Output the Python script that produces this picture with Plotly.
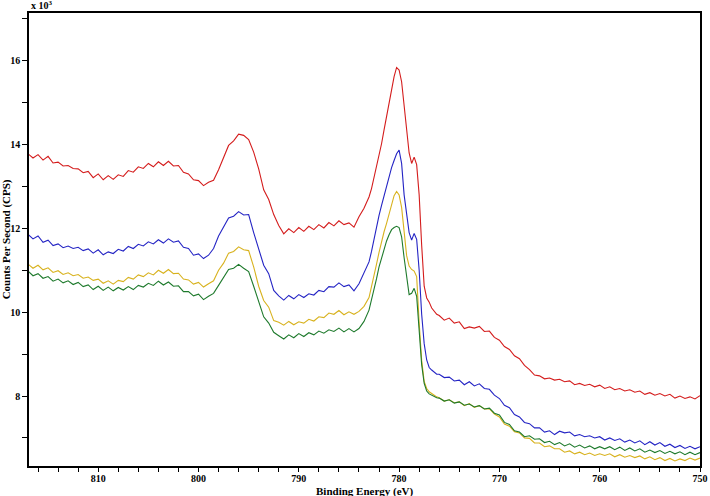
import numpy as np
import plotly.graph_objects as go

# binding energy grid (eV): 0.5 eV steps, 0.25 eV through the main peak
energy = np.concatenate([
    np.arange(817.0, 782.9, -0.5),
    np.arange(782.75, 776.2, -0.25),
    np.arange(776.0, 749.9, -0.5),
])

# counts per second (x 10^3)
red = [
    13.78, 13.68, 13.76, 13.63, 13.72, 13.56, 13.58, 13.49, 13.50, 13.43,
    13.42, 13.33, 13.36, 13.21, 13.30, 13.16, 13.26, 13.17, 13.28, 13.24,
    13.38, 13.34, 13.47, 13.43, 13.55, 13.47, 13.59, 13.50, 13.60, 13.49,
    13.50, 13.34, 13.30, 13.16, 13.14, 13.02, 13.10, 13.15, 13.40, 13.67,
    13.98, 14.09, 14.25, 14.22, 14.12, 13.82, 13.42, 12.92, 12.69, 12.33,
    12.07, 11.87, 11.99, 11.90, 12.02, 11.93, 12.05, 11.97, 12.09, 12.01,
    12.14, 12.06, 12.18, 12.09, 12.13, 12.03, 12.28, 12.48, 12.75,
    12.95, 13.22, 13.45, 13.74, 14.02, 14.35, 14.68, 14.96, 15.25, 15.62,
    15.84, 15.78, 15.50, 14.93, 14.25, 13.80, 13.55, 13.70, 13.52, 12.80,
    11.60, 10.62, 10.34, 10.24, 10.10, 10.02, 9.95,
    9.92, 9.81, 9.86, 9.74, 9.77, 9.61, 9.65, 9.62, 9.66, 9.54,
    9.55, 9.40, 9.33, 9.18, 9.11, 8.96, 8.89, 8.73, 8.63, 8.50,
    8.48, 8.41, 8.43, 8.38, 8.40, 8.34, 8.36, 8.27, 8.30, 8.25,
    8.28, 8.22, 8.26, 8.18, 8.22, 8.15, 8.18, 8.12, 8.15, 8.09,
    8.12, 8.04, 8.08, 8.02, 8.06, 8.00, 8.04, 7.95, 8.00, 7.94,
    7.98, 7.93, 8.01,
]
blue = [
    11.86, 11.75, 11.82, 11.67, 11.72, 11.59, 11.63, 11.54, 11.58, 11.52,
    11.55, 11.47, 11.51, 11.41, 11.49, 11.37, 11.44, 11.40, 11.50, 11.46,
    11.57, 11.52, 11.62, 11.58, 11.68, 11.63, 11.73, 11.65, 11.75, 11.67,
    11.70, 11.55, 11.52, 11.36, 11.39, 11.28, 11.36, 11.52, 11.82, 12.04,
    12.25, 12.29, 12.40, 12.32, 12.33, 11.90, 11.52, 11.12, 10.92, 10.52,
    10.39, 10.29, 10.40, 10.32, 10.42, 10.35, 10.44, 10.41, 10.52, 10.49,
    10.61, 10.60, 10.70, 10.61, 10.65, 10.51, 10.68, 10.94, 11.20,
    11.45, 11.75, 12.05, 12.31, 12.55, 12.78, 12.98, 13.20, 13.45, 13.62,
    13.78, 13.87, 13.55, 12.80, 12.30, 11.90, 11.72, 11.88, 11.74, 11.00,
    9.95, 9.25, 8.86, 8.68, 8.62, 8.56, 8.52,
    8.52, 8.44, 8.45, 8.36, 8.38, 8.27, 8.34, 8.24, 8.29, 8.18,
    8.16, 8.02, 7.94, 7.78, 7.72, 7.56, 7.50, 7.37, 7.34, 7.24,
    7.24, 7.14, 7.17, 7.08, 7.16, 7.12, 7.14, 7.05, 7.08, 7.03,
    7.05, 7.00, 7.03, 6.95, 7.00, 6.94, 6.98, 6.90, 6.95, 6.88,
    6.93, 6.84, 6.91, 6.83, 6.89, 6.80, 6.85, 6.77, 6.82, 6.75,
    6.80, 6.74, 6.79,
]
yellow = [
    11.15, 11.05, 11.12, 11.01, 11.06, 10.95, 10.99, 10.90, 10.94, 10.87,
    10.90, 10.81, 10.84, 10.76, 10.79, 10.69, 10.75, 10.67, 10.76, 10.73,
    10.83, 10.79, 10.89, 10.85, 10.94, 10.89, 11.00, 10.93, 11.02, 10.92,
    10.93, 10.79, 10.77, 10.67, 10.71, 10.60, 10.68, 10.75, 11.00, 11.17,
    11.41, 11.45, 11.56, 11.49, 11.47, 11.08, 10.62, 10.28, 10.12, 9.80,
    9.76, 9.69, 9.78, 9.70, 9.77, 9.74, 9.83, 9.79, 9.89, 9.87,
    9.98, 9.95, 10.04, 9.94, 10.01, 9.95, 10.02, 10.14, 10.35,
    10.60, 10.88, 11.15, 11.43, 11.70, 11.92, 12.12, 12.35, 12.58, 12.78,
    12.88, 12.80, 12.50, 11.85, 11.35, 11.10, 11.02, 10.98, 10.85, 9.75,
    8.85, 8.35, 8.18, 8.10, 8.05, 8.02, 7.98,
    7.96, 7.88, 7.91, 7.84, 7.86, 7.77, 7.82, 7.73, 7.77, 7.69,
    7.70, 7.57, 7.50, 7.33, 7.28, 7.15, 7.12, 7.00, 6.99, 6.88,
    6.88, 6.79, 6.81, 6.74, 6.74, 6.66, 6.69, 6.62, 6.66, 6.60,
    6.64, 6.58, 6.62, 6.58, 6.62, 6.55, 6.60, 6.54, 6.58, 6.53,
    6.57, 6.50, 6.55, 6.48, 6.53, 6.46, 6.51, 6.45, 6.50, 6.46,
    6.52, 6.47, 6.52,
]
green = [
    10.98, 10.87, 10.92, 10.81, 10.85, 10.74, 10.79, 10.70, 10.75, 10.66,
    10.71, 10.61, 10.65, 10.54, 10.62, 10.52, 10.60, 10.51, 10.59, 10.53,
    10.61, 10.54, 10.64, 10.60, 10.69, 10.64, 10.74, 10.65, 10.72, 10.62,
    10.63, 10.49, 10.49, 10.39, 10.43, 10.30, 10.38, 10.45, 10.64, 10.82,
    11.02, 11.05, 11.14, 11.05, 10.97, 10.62, 10.24, 9.89, 9.74, 9.52,
    9.44, 9.36, 9.46, 9.39, 9.49, 9.42, 9.51, 9.46, 9.55, 9.50,
    9.58, 9.54, 9.62, 9.53, 9.61, 9.53, 9.61, 9.78, 10.05,
    10.28, 10.55, 10.80, 11.08, 11.30, 11.50, 11.70, 11.85, 11.97, 12.02,
    12.05, 12.02, 11.80, 11.30, 10.85, 10.42, 10.45, 10.57, 10.38, 9.55,
    8.75, 8.30, 8.12, 8.05, 8.02, 7.99, 7.96,
    7.95, 7.88, 7.91, 7.83, 7.86, 7.78, 7.81, 7.74, 7.77, 7.69,
    7.71, 7.59, 7.55, 7.37, 7.32, 7.17, 7.14, 7.03, 7.05, 6.97,
    6.98, 6.89, 6.92, 6.84, 6.89, 6.81, 6.86, 6.78, 6.83, 6.76,
    6.81, 6.74, 6.79, 6.74, 6.79, 6.72, 6.78, 6.70, 6.76, 6.69,
    6.74, 6.66, 6.71, 6.65, 6.70, 6.63, 6.68, 6.62, 6.67, 6.60,
    6.66, 6.60, 6.65,
]

series = [
    (red, "#d41c1c"),
    (blue, "#2424c4"),
    (yellow, "#d8b21e"),
    (green, "#1e7a2c"),
]

serif = "Liberation Serif, Times New Roman, serif"
tick_font = dict(family=serif, size=10, color="black", weight="bold")

fig = go.Figure()
for ys, col in series:
    fig.add_trace(go.Scatter(x=energy, y=ys, mode="lines",
                             line=dict(color=col, width=1.1),
                             showlegend=False, hoverinfo="skip"))

fig.update_xaxes(range=[816.9, 750], tick0=750, dtick=10, automargin=False,
                 ticks="outside", ticklen=4, tickwidth=1, tickcolor="black",
                 ticklabelstandoff=-2,
                 minor=dict(dtick=2, tick0=750, ticks="outside", ticklen=4,
                            tickcolor="black", showgrid=False),
                 showline=True, linecolor="black", linewidth=1.5, mirror=True,
                 showgrid=False, zeroline=False, tickfont=tick_font)
fig.update_yaxes(range=[6.33, 17.14], tick0=8, dtick=2, automargin=False,
                 ticks="outside", ticklen=5, tickwidth=1, tickcolor="black",
                 minor=dict(dtick=1, tick0=7, ticks="outside", ticklen=5,
                            tickcolor="black", showgrid=False),
                 showline=True, linecolor="black", linewidth=1.5, mirror=True,
                 showgrid=False, zeroline=False, tickfont=tick_font)

fig.add_annotation(text="x 10<sup>3</sup>", xref="paper", yref="paper",
                   x=0, y=1, xanchor="left", yanchor="bottom", showarrow=False,
                   font=dict(family=serif, size=10, color="black", weight="bold"))
fig.add_annotation(text="Counts Per Second (CPS)", xref="paper", yref="paper",
                   x=-0.033, y=0.5, textangle=-90, xanchor="center",
                   yanchor="middle", showarrow=False,
                   font=dict(family=serif, size=11, color="black", weight="bold"))
fig.add_annotation(text="Binding Energy (eV)", xref="paper", yref="paper",
                   x=0.5, y=-0.056, xanchor="center", yanchor="middle",
                   showarrow=False,
                   font=dict(family=serif, size=11, color="black", weight="bold"))

fig.update_layout(width=710, height=496,
                  margin=dict(l=29, r=10, t=13, b=30),
                  plot_bgcolor="white", paper_bgcolor="white")

# page body has a default 8px margin; drop it so the figure sits at 0,0
fig.write_html("out.html", config={"displayModeBar": False},
               post_script="document.body.style.margin='0';")
